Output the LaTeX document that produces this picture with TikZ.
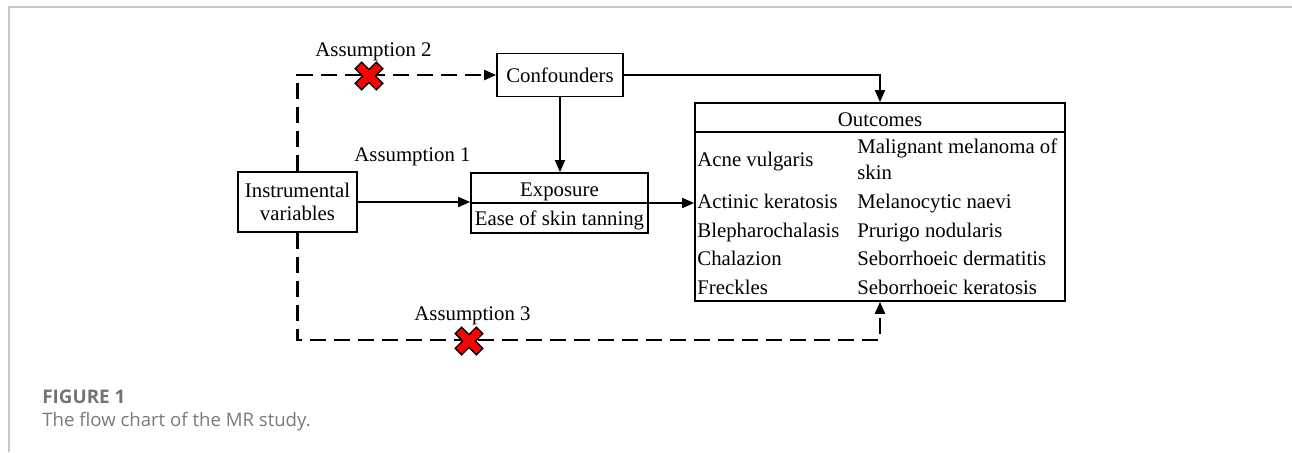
\documentclass[tikz,border=0pt]{standalone}
\usepackage{fontspec}
\setmainfont{Liberation Serif}
\newfontfamily\capfont{Open Sans}
\usetikzlibrary{arrows.meta}
\usetikzlibrary{positioning}
\usetikzlibrary{calc}

\begin{document}
\begin{tikzpicture}[x=0.5pt, y=-0.5pt,
		font=\fontsize{10.4}{11.8}\selectfont,
		box/.style={draw, line width=0.85pt, inner sep=0pt, align=center},
		link/.style={line width=0.85pt, -{Triangle[length=6pt, width=5pt]}},
		dashlink/.style={link, line width=1.1pt, dash pattern=on 8pt off 4pt},
		item/.style={anchor=base west, inner sep=0pt},
		pics/nocross/.style={code={
			\draw[fill=red, line width=0.7pt, rotate=45] (4.5,4.5) -- (15,4.5) -- (15,-4.5) -- (4.5,-4.5) -- (4.5,-15) -- (-4.5,-15) -- (-4.5,-4.5) -- (-15,-4.5) -- (-15,4.5) -- (-4.5,4.5) -- (-4.5,15) -- (4.5,15) -- cycle;}}]
	\useasboundingbox (0,0) rectangle (1292,452);
	% frame
	\draw[black!22, line width=0.8pt] (9,452) -- (9,7) -- (1292,7);
	
	% boxes
	\node[box, minimum width=59.5pt, minimum height=30pt] (iv) at (297.5,202) {Instrumental\\variables};
	\node[box, minimum width=63pt, minimum height=21.5pt] (conf) at (560,75) {Confounders};
	\node[box, minimum width=88.5pt, minimum height=30pt] (exp) at (559.5,203) {};
	\node[anchor=base] (expname) at (559.5,196) {Exposure};
	\node[anchor=base] (exptrait) at (559.5,225) {Ease of skin tanning};
	\draw[line width=0.85pt] (exp.west) -- (exp.east);
	
	% outcomes table
	\node[box, minimum width=185pt, minimum height=99pt] (outc) at (880,202) {};
	\coordinate (headline) at (880,132);
	\node[anchor=base] (outhead) at (880,126) {Outcomes};
	\draw[line width=0.85pt] (outc.west |- headline) -- (outc.east |- headline);
	\node[item] (acne) at (697,166) {Acne vulgaris};
	\node[item] (actinic) at (697,208) {Actinic keratosis};
	\node[item] (bleph) at (697,237) {Blepharochalasis};
	\node[item] (chal) at (697,265) {Chalazion};
	\node[item] (freck) at (697,294) {Freckles};
	\node[anchor=west, inner sep=0pt, align=left, font=\fontsize{10.4}{13}\selectfont] (melan) at (857,159) {Malignant melanoma of\\skin};
	\node[item] (naevi) at (857,208) {Melanocytic naevi};
	\node[item] (prurigo) at (857,237) {Prurigo nodularis};
	\node[item] (sebderm) at (857,265) {Seborrhoeic dermatitis};
	\node[item] (sebker) at (857,294) {Seborrhoeic keratosis};
	
	% arrows
	\draw[dashlink] (iv.north) |- (conf.west);
	\draw[link] (conf.east) -| (outc.north);
	\draw[link] (conf.south) -- (conf.south |- exp.north);
	\draw[link] (iv.east) -- (iv.east -| exp.west);
	\draw[link] (exp.east) -- (exp.east -| outc.west);
	\coordinate (rail) at (297.5,340);
	\draw[dashlink] (iv.south) -- (rail) -| (outc.south);
	
	% assumptions
	\node[anchor=base] (as2) at (373.5,56) {Assumption 2};
	\node[anchor=base] (as1) at (412.5,161) {Assumption 1};
	\node[anchor=base] (as3) at (472.5,320) {Assumption 3};
	\pic at (369,76) {nocross};
	\pic at (469,341) {nocross};
	
	% caption
	\node[anchor=base west, inner sep=0pt, font=\capfont\fontsize{9.4}{11}\selectfont\bfseries, text=black!55] (figno) at (42,403) {FIGURE 1};
	\node[anchor=base west, inner sep=0pt, font=\capfont\fontsize{9.3}{11}\selectfont, text=black!52] (figcap) at (42,426) {The flow chart of the MR study.};
\end{tikzpicture}
\end{document}
